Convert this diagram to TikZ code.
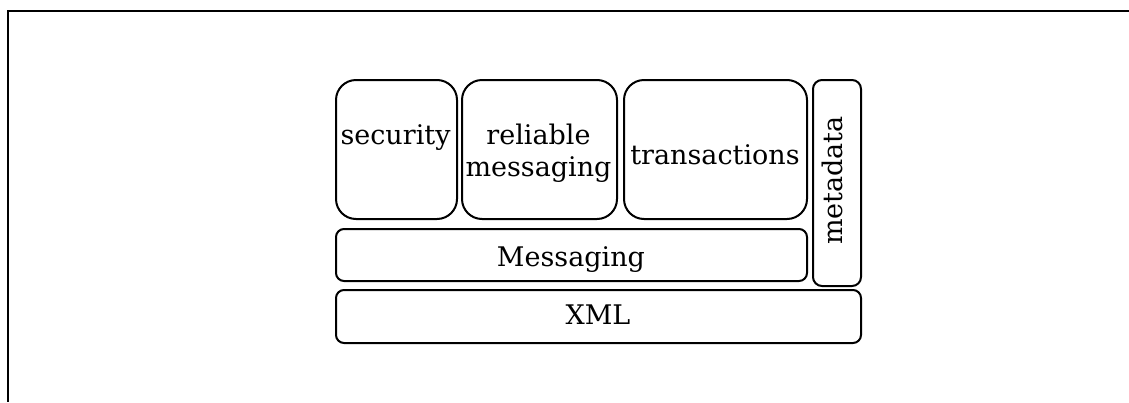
\documentclass[tikz,border=0pt]{standalone}
\usepackage{fontspec}
\setmainfont{DejaVu Serif}
\begin{document}
\begin{tikzpicture}[x=1pt,y=-1pt,
  layer/.style={draw, line width=2pt, rounded corners=#1, inner sep=0pt,
    anchor=north west},
  word/.style={font=\fontsize{27}{32}\selectfont, inner sep=0pt, anchor=base,
    align=center}]
\useasboundingbox (0,0) rectangle (1129,402);
% page frame (open to the right and bottom)
\draw[line width=2.3pt] (1129,11) -- (8.3,11) -- (8.3,402);

% protocol stack layers
\node[layer=20pt, minimum width=121pt, minimum height=139pt] (security) at (335,79) {};
\node[layer=20pt, minimum width=155pt, minimum height=139pt] (reliable) at (461,79) {};
\node[layer=20pt, minimum width=183pt, minimum height=139pt] (transactions) at (623,79) {};
\node[layer=9pt, minimum width=48pt, minimum height=206pt] (metadata) at (812,79) {};
\node[layer=8pt, minimum width=471pt, minimum height=52pt] (messaging) at (335,228) {};
\node[layer=8pt, minimum width=525pt, minimum height=53pt] (xml) at (335,289) {};

% layer names (a multi-line name sits on the baseline of its last line)
\node[word] (securitytext) at (395.5,144) {security};
\node[word] (reliabletext) at (538.5,176) {reliable\\messaging};
\node[word] (transactionstext) at (715,164) {transactions};
\node[word, rotate=90] (metadatatext) at (842,180.5) {metadata};
\node[word] (messagingtext) at (571,266) {Messaging};
\node[word] (xmltext) at (598,324) {XML};
\end{tikzpicture}
\end{document}
